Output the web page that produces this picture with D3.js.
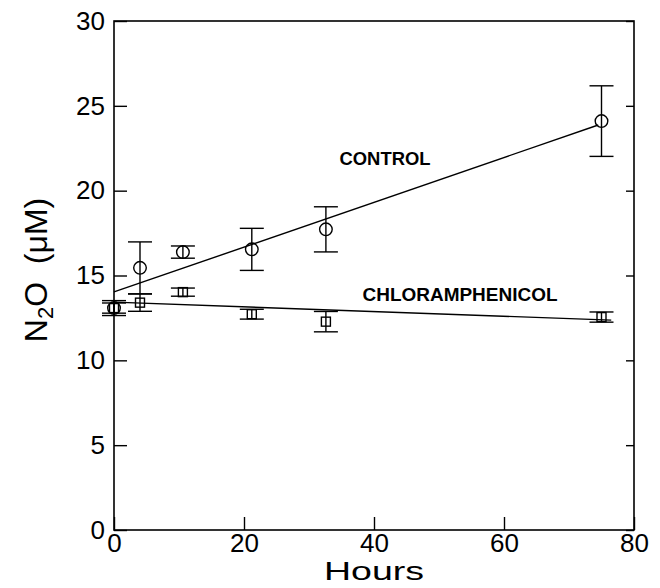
<!DOCTYPE html>
<html><head><meta charset="utf-8">
<script src="https://cdn.jsdelivr.net/npm/d3@7"></script>
<style>body{margin:0;background:#fff}</style></head>
<body><svg id="c" width="660" height="588"></svg>
<script>
const hours = [0, 4, 10.6, 21.2, 32.6, 75];
const controlMean = [13.08, 15.45, 16.38, 16.54, 17.72, 24.1];
const controlErr = [0.3, 1.53, 0.36, 1.24, 1.33, 2.08];
const chlorMean = [13.08, 13.4, 14.02, 12.72, 12.28, 12.55];
const chlorErr = [0.44, 0.51, 0.24, 0.29, 0.6, 0.3];
const controlFitHours = [0, 74.5];
const controlFitValues = [14.03, 23.87];
const chlorFitHours = [0, 76.5];
const chlorFitValues = [13.43, 12.37];
const xTicks = [0, 20, 40, 60, 80];
const yTicks = [0, 5, 10, 15, 20, 25, 30];

const svg = d3.select("#c");
const L = 114, R = 634, T = 21, B = 530;
const x = d3.scaleLinear().domain([0, 80]).range([L, R]);
const y = d3.scaleLinear().domain([0, 30]).range([B, T]);
const font = "'Liberation Sans', Arial, sans-serif";

// frame
svg.append("rect").attr("x", L).attr("y", T).attr("width", R - L).attr("height", B - T)
  .attr("fill", "none").attr("stroke", "#000").attr("stroke-width", 1.6);

function styleAxis(g) {
  g.select(".domain").remove();
  g.selectAll("line").attr("stroke", "#000").attr("stroke-width", 1.4);
  g.selectAll("text").attr("font-family", font).attr("font-size", 26).attr("fill", "#000");
}
svg.append("g").attr("transform", `translate(${L},0)`)
  .call(d3.axisLeft(y).tickValues(yTicks).tickSizeInner(-13).tickSizeOuter(0).tickPadding(9).tickFormat(d3.format("d")))
  .call(styleAxis);
svg.append("g").attr("transform", `translate(0,${B})`)
  .call(d3.axisBottom(x).tickValues(xTicks).tickSizeInner(-13).tickSizeOuter(0).tickPadding(4).tickFormat(d3.format("d")))
  .call(styleAxis);
svg.append("g").attr("transform", `translate(${R},0)`)
  .call(d3.axisRight(y).tickValues(yTicks).tickSizeInner(-8).tickSizeOuter(0).tickFormat(""))
  .call(styleAxis);

// fit lines
const line = d3.line().x(d => x(d[0])).y(d => y(d[1]));
svg.append("path").attr("d", line(d3.zip(controlFitHours, controlFitValues)))
  .attr("fill", "none").attr("stroke", "#000").attr("stroke-width", 1.4);
svg.append("path").attr("d", line(d3.zip(chlorFitHours, chlorFitValues)))
  .attr("fill", "none").attr("stroke", "#000").attr("stroke-width", 1.4);

function errorBars(means, errs) {
  const g = svg.append("g").attr("stroke", "#000").attr("stroke-width", 1.4).attr("fill", "none");
  hours.forEach((h, i) => {
    const cx = x(h), y1 = y(means[i] + errs[i]), y2 = y(means[i] - errs[i]);
    g.append("line").attr("x1", cx).attr("x2", cx).attr("y1", y1).attr("y2", y2);
    g.append("line").attr("x1", cx - 12).attr("x2", cx + 12).attr("y1", y1).attr("y2", y1);
    g.append("line").attr("x1", cx - 12).attr("x2", cx + 12).attr("y1", y2).attr("y2", y2);
  });
}
errorBars(controlMean, controlErr);
errorBars(chlorMean, chlorErr);

svg.append("g").selectAll("circle").data(hours).join("circle")
  .attr("cx", (d) => x(d)).attr("cy", (d, i) => y(controlMean[i])).attr("r", 6.3)
  .attr("fill", "none").attr("stroke", "#000").attr("stroke-width", 1.4);
svg.append("g").selectAll("rect").data(hours).join("rect")
  .attr("x", d => x(d) - 4.5).attr("y", (d, i) => y(chlorMean[i]) - 4.5)
  .attr("width", 9).attr("height", 9)
  .attr("fill", "none").attr("stroke", "#000").attr("stroke-width", 1.4);

// labels
svg.append("text").attr("x", 385).attr("y", 165).attr("text-anchor", "middle")
  .attr("font-family", font).attr("font-weight", "bold").attr("font-size", 18)
  .attr("textLength", 91).attr("lengthAdjust", "spacingAndGlyphs").text("CONTROL");
svg.append("text").attr("x", 460).attr("y", 301).attr("text-anchor", "middle")
  .attr("font-family", font).attr("font-weight", "bold").attr("font-size", 18)
  .attr("textLength", 195).attr("lengthAdjust", "spacingAndGlyphs").text("CHLORAMPHENICOL");

svg.append("text").attr("x", 374).attr("y", 580).attr("text-anchor", "middle")
  .attr("font-family", font).attr("font-size", 26)
  .attr("textLength", 100).attr("lengthAdjust", "spacingAndGlyphs").text("Hours");

const yt = svg.append("text").attr("transform", "translate(47,270) rotate(-90)")
  .attr("text-anchor", "middle").attr("font-family", font).attr("font-size", 32);
yt.append("tspan").text("N");
yt.append("tspan").attr("font-size", 22).attr("dy", 6).text("2");
yt.append("tspan").attr("dy", -6).text("O\u00a0\u00a0(μM)");
</script></body></html>
